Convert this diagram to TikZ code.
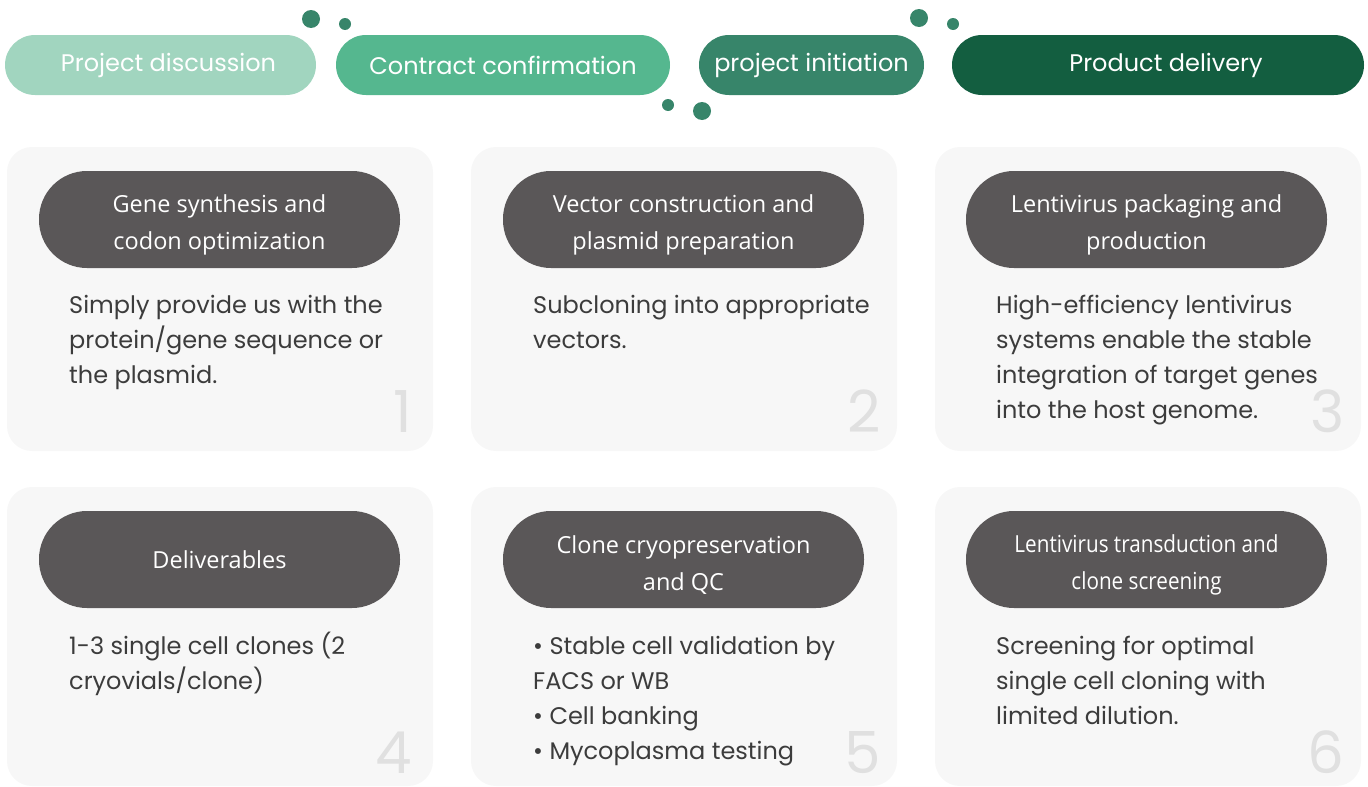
\documentclass[tikz,border=0pt]{standalone}
\usepackage{fontspec}
\setmainfont{Poppins}
\newfontfamily\pillfont{Open Sans}
\definecolor{stepA}{HTML}{A1D5BF}
\definecolor{stepB}{HTML}{55B78F}
\definecolor{stepC}{HTML}{37856A}
\definecolor{stepD}{HTML}{135E40}
\definecolor{cardbg}{HTML}{F7F7F7}
\definecolor{pillgray}{HTML}{5A5758}
\definecolor{bodytext}{HTML}{3C3C3C}
\definecolor{numgray}{HTML}{E0E0E0}
\newcommand{\tstrut}{\rule{0pt}{28pt}}
\begin{document}
\begin{tikzpicture}[x=1pt, y=-1pt,
    steppill/.style={rounded corners=30pt, minimum height=60pt, inner sep=0pt, text=white, font=\fontsize{24}{28}\selectfont},
    card/.style={fill=cardbg, rounded corners=25pt},
    title/.style={fill=pillgray, rounded corners=48pt, minimum width=361pt, minimum height=97pt, inner sep=0pt, text=white, align=center, font=\pillfont\fontsize{23.5}{37}\selectfont},
    body/.style={anchor=base west, inner sep=0pt, align=left, text=bodytext, font=\fontsize{24}{35}\selectfont},
    num/.style={anchor=base east, inner sep=0pt, text=numgray, font=\fontsize{58}{60}\selectfont}]
  \useasboundingbox (0,0) rectangle (1368,787);
  % phase pills
  \node[steppill, fill=stepA, minimum width=311pt] (discuss) at (160.5,65) {\hspace*{16pt}Project discussion};
  \node[steppill, fill=stepB, minimum width=334pt] (contract) at (503,65) {Contract confirmation};
  \node[steppill, fill=stepC, minimum width=225pt] (initiate) at (811.5,65) {project initiation};
  \node[steppill, fill=stepD, minimum width=412pt] (deliver) at (1158,65) {\hspace*{16pt}Product delivery};
  \foreach \x/\y/\r in {311/19/9, 345/24/6, 668/105/6, 702/111/9, 919/18/9, 953/24/6}
    \fill[stepC] (\x,\y) circle (\r pt);
  % cards
  \foreach \x in {7, 471, 935} {
    \fill[card] (\x,147) rectangle ++(426,304);
    \fill[card] (\x,487) rectangle ++(426,299);
  }
  \node[title] (gene) at (219.5,219.5) {\tstrut Gene synthesis and\\codon optimization};
  \node[title] (vector) at (683.5,219.5) {\tstrut Vector construction and\\plasmid preparation};
  \node[title] (lenti) at (1146.5,219.5) {\tstrut Lentivirus packaging and\\production};
  \node[title] (deliv) at (219.5,559.5) {Deliverables};
  \node[title] (cryo) at (683.5,559.5) {\tstrut Clone cryopreservation\\and QC};
  \node[title] (screen) at (1146.5,559.5) {\tstrut\scalebox{0.88}[1]{Lentivirus transduction and}\\\scalebox{0.88}[1]{clone screening}};
  % descriptions (base = last line)
  \node[body] (geneText) at (69,383) {Simply provide us with the\\protein/gene sequence or\\the plasmid.};
  \node[body] (vectorText) at (533,348) {Subcloning into appropriate\\vectors.};
  \node[body] (lentiText) at (996,418) {High-efficiency lentivirus\\systems enable the stable\\integration of target genes\\into the host genome.};
  \node[body] (delivText) at (69,689) {1-3 single cell clones (2\\cryovials/clone)};
  \node[body] (cryoText) at (533,759) {• Stable cell validation by\\FACS or WB\\• Cell banking\\• Mycoplasma testing};
  \node[body] (screenText) at (996,724) {Screening for optimal\\single cell cloning with\\limited dilution.};
  % step numbers
  \foreach \x/\y/\n in {412/432/1, 881/432/2, 1345/432/3, 412/773/4, 881/773/5, 1345/773/6}
    \node[num] (n\n) at (\x,\y) {\n};
\end{tikzpicture}
\end{document}
